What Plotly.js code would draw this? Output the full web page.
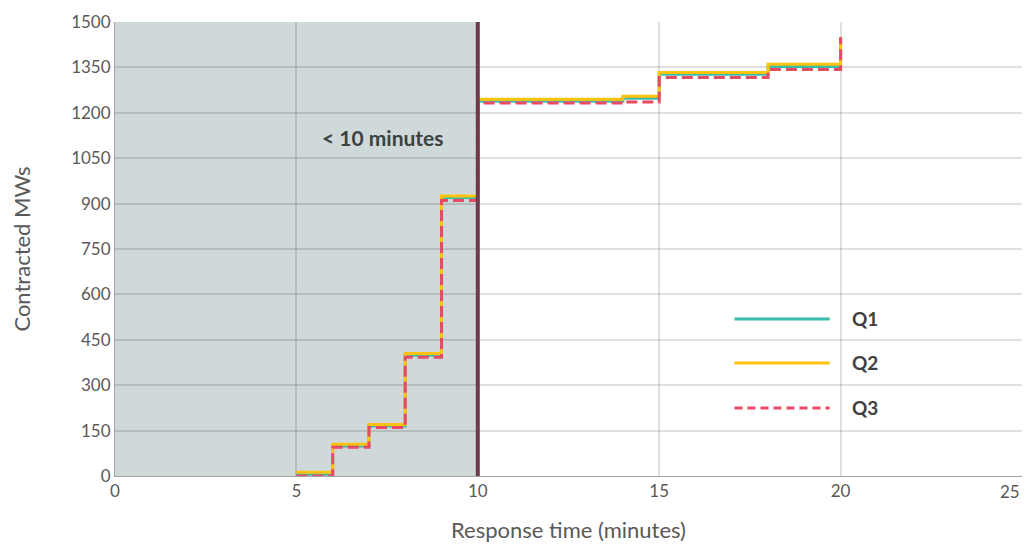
<!DOCTYPE html>
<html>
<head>
<meta charset="utf-8">
<script src="https://cdn.plot.ly/plotly-3.0.1.min.js"></script>
<style>html,body{margin:0;padding:0;background:#fff;}#chart{width:1030px;height:544px;}</style>
</head>
<body>
<div id="chart"></div>
<script>
const responseTime = [5, 6, 7, 8, 9, 10, 14, 15, 18, 20];
const q1 = [6, 99, 165, 399, 920, 1238, 1248, 1327, 1353, 1450];
const q2 = [12, 105, 170, 405, 925, 1245, 1255, 1333, 1360, 1450];
const q3 = [0, 95, 160, 392, 910, 1232, 1236, 1317, 1343, 1450];
const seriesNames = ['Q1', 'Q2', 'Q3'];
const yTicks = [0, 150, 300, 450, 600, 750, 900, 1050, 1200, 1350, 1500];
const xTicks = [0, 5, 10, 15, 20, 25];

const colors = ['#3bbcab', '#ffc20e', '#e84a66'];
const dashes = ['solid', 'solid', '11px,5px'];
const series = [q1, q2, q3];

const traces = series.map((ys, i) => ({
  x: responseTime, y: ys, name: seriesNames[i], type: 'scatter', mode: 'lines',
  line: {shape: 'hv', color: colors[i], width: 3, dash: dashes[i]},
  showlegend: false, hoverinfo: 'skip'
}));

const shapes = [
  {type: 'rect', xref: 'x', yref: 'paper', x0: 0, x1: 10, y0: 0, y1: 1, fillcolor: '#cfd9d9', line: {width: 0}, layer: 'below'},
  {type: 'line', xref: 'x', yref: 'paper', x0: 10, x1: 10, y0: 0, y1: 1, line: {color: '#6e3a4b', width: 4}}
];
const lastTick = xTicks[xTicks.length - 1];
const annotations = [
  {xref: 'x', yref: 'y', x: 7.38, y: 1120, text: '<b>&lt; 10 minutes</b>', showarrow: false,
   font: {family: 'Lato, sans-serif', size: 21, color: '#3a4242'}},
  {xref: 'x', yref: 'paper', x: lastTick, y: 0, xanchor: 'right', yanchor: 'top', yshift: -3,
   text: String(lastTick), showarrow: false, font: {family: 'Lato, sans-serif', size: 17, color: '#595959'}}
];
const legY = [0.346, 0.249, 0.150];
seriesNames.forEach((n, i) => {
  shapes.push({type: 'line', xref: 'paper', yref: 'paper', x0: 0.683, x1: 0.788, y0: legY[i], y1: legY[i],
    line: {color: colors[i], width: 3, dash: i === 2 ? '8px,5px' : 'solid'}});
  annotations.push({xref: 'paper', yref: 'paper', x: 0.810, y: legY[i], xanchor: 'left', yanchor: 'middle',
    text: '<b>' + n + '</b>', showarrow: false, font: {family: 'Lato, sans-serif', size: 19, color: '#404040'}});
});

const layout = {
  width: 1030, height: 544,
  margin: {l: 115, r: 8, t: 22, b: 68},
  paper_bgcolor: '#ffffff', plot_bgcolor: 'rgba(0,0,0,0)',
  font: {family: 'Lato, sans-serif', color: '#595959'},
  xaxis: {
    range: [0, 25], tickvals: xTicks, ticktext: xTicks.map(v => v === lastTick ? '' : String(v)),
    showgrid: true, gridcolor: 'rgba(0,0,0,0.12)', gridwidth: 2, zeroline: false,
    showline: true, linecolor: '#a6a6a6', linewidth: 1, mirror: false,
    tickfont: {size: 17, color: '#595959'}, ticks: '',
    title: {text: 'Response time (minutes)', font: {size: 22, color: '#595959'}, standoff: 22}
  },
  yaxis: {
    range: [0, 1500], tickvals: yTicks, ticktext: yTicks.map(String),
    showgrid: true, gridcolor: 'rgba(0,0,0,0.12)', gridwidth: 2, zeroline: false,
    showline: true, linecolor: '#a6a6a6', linewidth: 1,
    tickfont: {size: 17, color: '#595959'}, ticks: '',
    title: {text: 'Contracted MWs', font: {size: 22, color: '#595959'}, standoff: 34}
  },
  shapes: shapes, annotations: annotations, showlegend: false
};
Plotly.newPlot('chart', traces, layout, {displayModeBar: false, staticPlot: true});
</script>
</body>
</html>
